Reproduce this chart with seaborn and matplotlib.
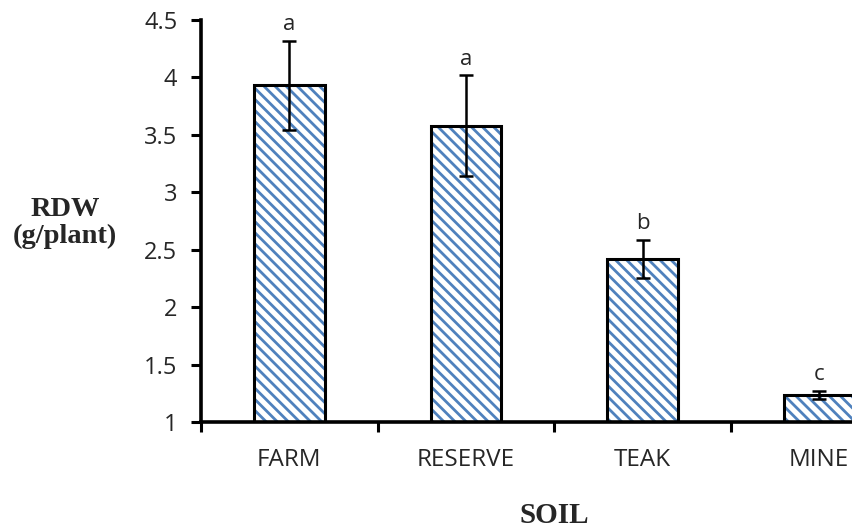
import matplotlib
matplotlib.use("Agg")
import matplotlib.pyplot as plt
import seaborn as sns
import pandas as pd

# Root dry weight per soil type (mean, error, significance group)
soils = ["FARM", "RESERVE", "TEAK", "MINE"]
rdw = [3.93, 3.58, 2.42, 1.235]
rdw_err = [0.39, 0.44, 0.165, 0.035]
groups = ["a", "a", "b", "c"]
y_ticks = [1, 1.5, 2, 2.5, 3, 3.5, 4, 4.5]
y_tick_labels = ["1", "1.5", "2", "2.5", "3", "3.5", "4", "4.5"]

df = pd.DataFrame({"SOIL": soils, "RDW": rdw})

sns.set_theme(style="white")
plt.rcParams["font.family"] = ["Open Sans", "DejaVu Sans"]
plt.rcParams["hatch.linewidth"] = 2.0

W, H = 853, 531
fig = plt.figure(figsize=(W / 100, H / 100), dpi=100)
ax = fig.add_axes([201 / W, 109 / H, (907.5 - 201) / W, (422 - 20) / H])

hatch_blue = "#4F81BD"
# hatched fill
sns.barplot(data=df, x="SOIL", y="RDW", width=0.4, color="white",
            errorbar=None, ax=ax)
for p in ax.patches:
    p.set_facecolor("white")
    p.set_edgecolor(hatch_blue)
    p.set_linewidth(0)
    p.set_hatch("\\\\\\")
# black outline on top
sns.barplot(data=df, x="SOIL", y="RDW", width=0.4, color="black",
            fill=False, linewidth=2.2, errorbar=None, ax=ax)

ax.errorbar(x=list(range(len(soils))), y=rdw, yerr=rdw_err, fmt="none",
            ecolor="black", elinewidth=1.8, capsize=5, capthick=1.8, zorder=5)

for i, (v, e, g) in enumerate(zip(rdw, rdw_err, groups)):
    ax.annotate(g, (i, v + e), xytext=(0, 4), textcoords="offset points",
                ha="center", va="bottom", fontsize=16, color="#262626")

ax.set_xlim(-0.5, 3.5)
ax.set_ylim(1, 4.5)
ax.set_yticks(y_ticks)
ax.set_yticklabels(y_tick_labels, fontsize=17, color="#262626")
ax.tick_params(axis="y", direction="out", length=7, width=2.2, pad=10,
               left=True, color="black")

ax.set_xticks([-0.5, 0.5, 1.5, 2.5, 3.5])
ax.set_xticklabels([])
ax.set_xticks(range(len(soils)), minor=True)
ax.set_xticklabels(soils, minor=True, fontsize=17.5, color="#262626")
ax.tick_params(axis="x", which="major", direction="out", length=7, width=2.2,
               bottom=True, color="black")
ax.tick_params(axis="x", which="minor", length=0, pad=19)

for s in ["top", "right"]:
    ax.spines[s].set_visible(False)
for s in ["left", "bottom"]:
    ax.spines[s].set_color("black")
    ax.spines[s].set_linewidth(2.6)
ax.set_xlabel("")
ax.set_ylabel("")

fig.text(65 / W, 1 - 223 / H, "RDW\n(g/plant)", ha="center", va="center",
         multialignment="center", fontsize=20.5, fontweight="bold",
         family=["Liberation Serif", "DejaVu Serif"], linespacing=1.1)
fig.text(554 / W, 1 - 523 / H, "SOIL", ha="center", va="baseline",
         fontsize=21, fontweight="bold",
         family=["Liberation Serif", "DejaVu Serif"])

fig.savefig("out.png", dpi=100)
